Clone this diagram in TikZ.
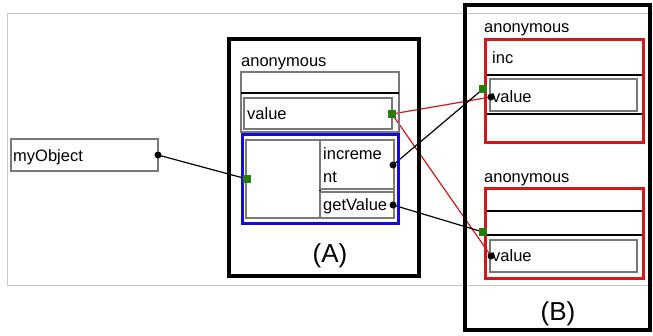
\documentclass[tikz,border=0pt]{standalone}
\usepackage{fontspec}
\setmainfont{Liberation Sans}
\pgfdeclarelayer{bg}
\pgfsetlayers{bg,main}
\definecolor{myred}{RGB}{210,25,25}
\definecolor{myblue}{RGB}{20,10,220}
\definecolor{mygreen}{RGB}{40,125,10}
\definecolor{mygray}{RGB}{120,120,120}
\definecolor{framegray}{RGB}{200,200,200}
\begin{document}
\begin{tikzpicture}[x=1pt,y=-1pt,
  lbl/.style={anchor=base west,inner sep=0pt,font=\fontsize{16.5}{20}\selectfont},
  big/.style={anchor=base,inner sep=0pt,font=\fontsize{26}{30}\selectfont},
  graybox/.style={draw=mygray,line width=1.2pt},
  thick frame/.style={draw=black,line width=4pt},
  redframe/.style={draw=myred,line width=3pt},
  blueframe/.style={draw=myblue,line width=3pt},
  dotst/.style={circle,fill=black,inner sep=0pt,minimum size=7pt},
  sqst/.style={rectangle,fill=mygreen,inner sep=0pt,minimum size=8pt},
  conn/.style={line width=1.2pt},
  redconn/.style={line width=1.2pt,draw=myred}]
\useasboundingbox (0,0) rectangle (653,335);
% outer light frame
\draw[framegray,line width=1pt] (653,13) -- (7,13) -- (7,285) -- (653,285);

% myObject
\draw[graybox] (11,139) rectangle (158,171);
\node[lbl] (myobj) at (13,161) {myObject};
\node[dotst] (objdot) at (158,155) {};

% Box A
\draw[thick frame] (229,39) rectangle (419,276);
\node[lbl] (anonA) at (241,66) {anonymous};
\draw[graybox] (241,72) rectangle (399,132);
\draw[line width=1.5pt] (241,93) -- (399,93);
\draw[graybox] (244,98) rectangle (392,129);
\node[lbl] (valA) at (247,119) {value};
\node[sqst] (valAsq) at (392,114) {};
\draw[blueframe] (242,134) rectangle (398,223);
\draw[graybox] (246,140) rectangle (394,218);
\draw[line width=1.5pt] (320,140) -- (320,218);
\draw[graybox] (320,140) rectangle (394,189);
\draw[graybox] (320,192) rectangle (394,218);
\node[lbl] (incA1) at (323,159) {increme};
\node[lbl] (incA2) at (323,182) {nt};
\node[lbl] (getA) at (323,210) {getValue};
\node[sqst] (funcsq) at (247,179) {};
\node[dotst] (incdot) at (393,165) {};
\node[dotst] (getdot) at (393,205) {};
\node[big] (labA) at (330,262) {(A)};

% Box B
\draw[thick frame] (465,5) rectangle (650,330);
\node[lbl] (anonB1) at (484,32) {anonymous};
\draw[redframe] (485,39) rectangle (643,142);
\draw[line width=1.5pt] (486.5,75) -- (641.5,75);
\draw[line width=1.5pt] (486.5,114) -- (641.5,114);
\node[lbl] (incB) at (492,63) {inc};
\draw[graybox] (490,79) rectangle (637,111);
\node[lbl] (valB1) at (492,102) {value};
\node[sqst] (b1sq) at (483,89) {};
\node[dotst] (b1dot) at (491,97) {};

\node[lbl] (anonB2) at (484,182) {anonymous};
\draw[redframe] (485,188) rectangle (643,278);
\draw[line width=1.5pt] (486.5,211) -- (641.5,211);
\draw[line width=1.5pt] (486.5,235) -- (641.5,235);
\draw[graybox] (490,240) rectangle (637,272);
\node[lbl] (valB2) at (492,261) {value};
\node[sqst] (b2sq) at (483,232) {};
\node[dotst] (b2dot) at (491,256) {};
\node[big] (labB) at (558,320) {(B)};

% connectors
\begin{pgfonlayer}{bg}
\draw[conn] (objdot.center) -- (funcsq.center);
\draw[redconn] (valAsq.center) -- (b1dot.center);
\draw[redconn] (valAsq.center) -- (b2dot.center);
\draw[conn] (incdot.center) -- (b1sq.center);
\draw[conn] (getdot.center) -- (b2sq.center);
\end{pgfonlayer}
\end{tikzpicture}
\end{document}
